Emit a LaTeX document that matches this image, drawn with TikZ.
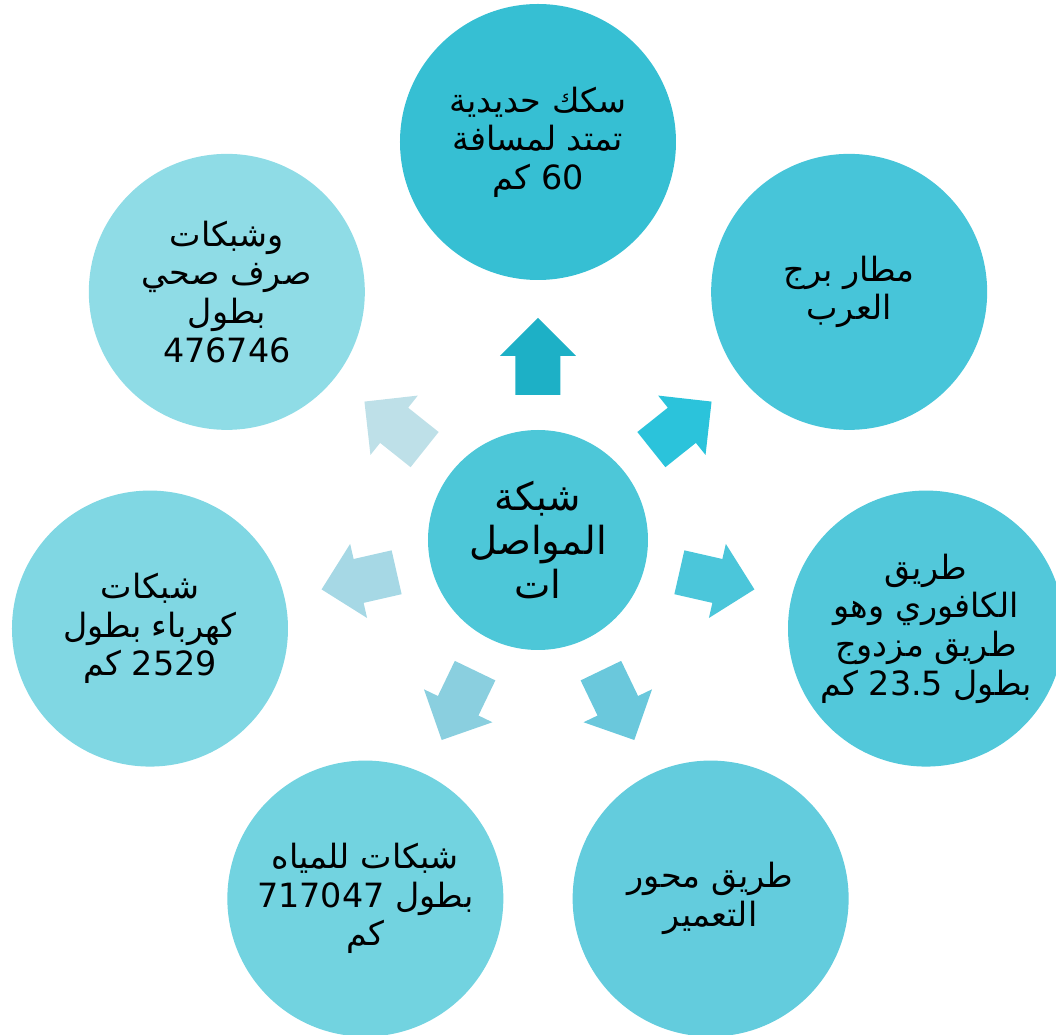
\documentclass[tikz,border=0pt]{standalone}
\usepackage{fontspec}
\newfontfamily\arabicfont[Script=Arabic]{DejaVu Sans}
\TeXXeTstate=1
\newcommand{\rl}[1]{\beginR #1\endR}

\definecolor{cTop}{HTML}{36BFD3}
\definecolor{cUR}{HTML}{47C5D9}
\definecolor{cR}{HTML}{52C8DA}
\definecolor{cLR}{HTML}{63CCDD}
\definecolor{cLL}{HTML}{72D3E0}
\definecolor{cL}{HTML}{80D7E3}
\definecolor{cUL}{HTML}{8FDCE6}
\definecolor{cHub}{HTML}{4DC7D8}
\definecolor{aTop}{HTML}{1DB0C6}
\definecolor{aUR}{HTML}{2BC3DB}
\definecolor{aR}{HTML}{4BC6DA}
\definecolor{aLR}{HTML}{6AC8DC}
\definecolor{aLL}{HTML}{8ACFDF}
\definecolor{aL}{HTML}{A6D8E5}
\definecolor{aUL}{HTML}{BEE0E8}

\tikzset{
	bubble/.style={circle, minimum width=5.52cm, inner sep=0pt, align=center, font=\arabicfont\fontsize{19}{22}\selectfont},
	hub/.style={circle, fill=cHub, minimum width=4.4cm, inner sep=0pt, align=center, font=\arabicfont\fontsize{22}{25}\selectfont},
	blockarrow/.pic={
		\fill (2.9,-0.45) -- (3.68,-0.45) -- (3.68,-0.76) -- (4.44,0) -- (3.68,0.76) -- (3.68,0.45) -- (2.9,0.45) -- cycle;
	}
}

\begin{document}
\begin{tikzpicture}
	\useasboundingbox (-10.76,-9.9) rectangle (10.36,10.8);
	\clip (-10.76,-9.9) rectangle (10.36,10.8);

	\node[hub] (hub) at (0,0) {\rl{شبكة}\\\rl{المواصل}\\\rl{ات}};

	\node[bubble, fill=cTop] (rail) at (90:7.96) {\rl{سكك حديدية}\\\rl{تمتد لمسافة}\\\rl{60 كم}};
	\node[bubble, fill=cUR] (airport) at (38.57:7.96) {\rl{مطار برج}\\\rl{العرب}};
	\node[bubble, fill=cR] (kafouri) at (-12.86:7.96) {\rl{طريق}\\\rl{الكافوري وهو}\\\rl{طريق مزدوج}\\\rl{بطول 23.5 كم}};
	\node[bubble, fill=cLR] (taameer) at (-64.29:7.96) {\rl{طريق محور}\\\rl{التعمير}};
	\node[bubble, fill=cLL] (water) at (-115.71:7.96) {\rl{شبكات للمياه}\\\rl{بطول 717047}\\\rl{كم}};
	\node[bubble, fill=cL] (power) at (-167.14:7.96) {\rl{شبكات}\\\rl{كهرباء بطول}\\\rl{2529 كم}};
	\node[bubble, fill=cUL] (sewer) at (141.43:7.96) {\rl{وشبكات}\\\rl{صرف صحي}\\\rl{بطول}\\\rl{476746}};

	\pic[rotate=90, fill=aTop] at (hub) {blockarrow};
	\pic[rotate=38.57, fill=aUR] at (hub) {blockarrow};
	\pic[rotate=-12.86, fill=aR] at (hub) {blockarrow};
	\pic[rotate=-64.29, fill=aLR] at (hub) {blockarrow};
	\pic[rotate=-115.71, fill=aLL] at (hub) {blockarrow};
	\pic[rotate=-167.14, fill=aL] at (hub) {blockarrow};
	\pic[rotate=141.43, fill=aUL] at (hub) {blockarrow};
\end{tikzpicture}
\end{document}
